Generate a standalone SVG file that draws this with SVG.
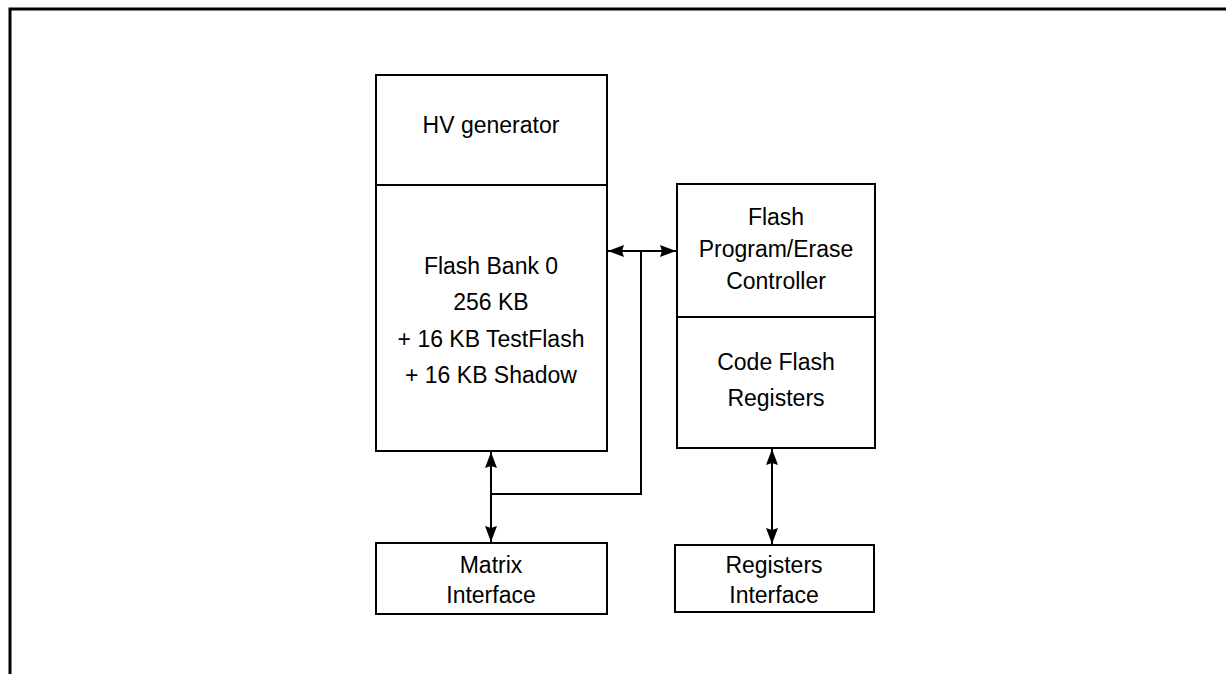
<svg xmlns="http://www.w3.org/2000/svg" width="1226" height="674" viewBox="0 0 1226 674">
<style>
.box{fill:#fff;stroke:#000;stroke-width:2}
.ln{fill:none;stroke:#000;stroke-width:2}
.frame{fill:none;stroke:#000;stroke-width:3}
text{font-family:"Liberation Sans",Arial,sans-serif;font-size:23px;fill:#000;text-anchor:middle}
</style>
<defs>
<marker id="ah" viewBox="0 0 16 12" refX="16" refY="6" markerWidth="16" markerHeight="12" markerUnits="userSpaceOnUse" orient="auto-start-reverse">
<path d="M0,0 L16,6 L0,12 L2,6 Z" fill="#000"/>
</marker>
</defs>
<path class="frame" d="M10,674 V9 H1226"/>
<g id="flash-bank">
<rect class="box" x="376" y="75" width="231" height="376"/>
<line class="ln" x1="376" y1="185" x2="607" y2="185"/>
<text x="491" y="133">HV generator</text>
<text x="491" y="274">Flash Bank 0</text>
<text x="491" y="310">256 KB</text>
<text x="491" y="347">+ 16 KB TestFlash</text>
<text x="491" y="383">+ 16 KB Shadow</text>
</g>
<g id="controller">
<rect class="box" x="677" y="184" width="198" height="264"/>
<line class="ln" x1="677" y1="317" x2="875" y2="317"/>
<text x="776" y="225">Flash</text>
<text x="776" y="257">Program/Erase</text>
<text x="776" y="289">Controller</text>
<text x="776" y="370">Code Flash</text>
<text x="776" y="406">Registers</text>
</g>
<g id="matrix-interface">
<rect class="box" x="376" y="543" width="231" height="71"/>
<text x="491" y="573">Matrix</text>
<text x="491" y="603">Interface</text>
</g>
<g id="registers-interface">
<rect class="box" x="675" y="545" width="199" height="67"/>
<text x="774" y="573">Registers</text>
<text x="774" y="603">Interface</text>
</g>
<g id="connectors">
<line class="ln" x1="491" y1="452" x2="491" y2="542" marker-start="url(#ah)" marker-end="url(#ah)"/>
<path class="ln" d="M491,494 H641 V251"/>
<line class="ln" x1="608" y1="251" x2="676" y2="251" marker-start="url(#ah)" marker-end="url(#ah)"/>
<line class="ln" x1="772" y1="449" x2="772" y2="544" marker-start="url(#ah)" marker-end="url(#ah)"/>
</g>
</svg>
